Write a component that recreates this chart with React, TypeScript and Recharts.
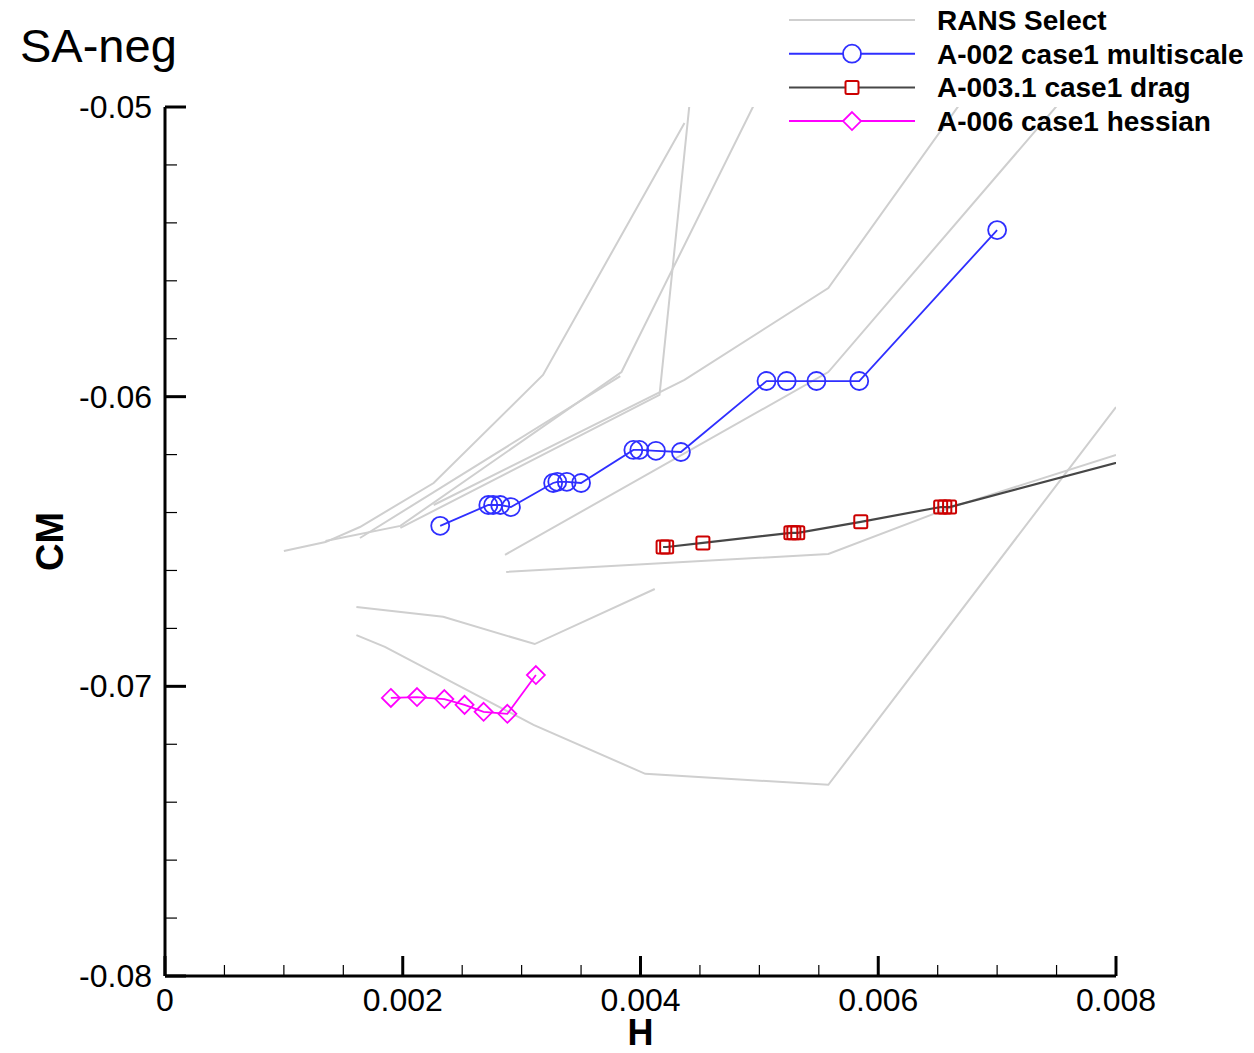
import { LineChart, Line, XAxis, YAxis } from 'recharts';

const FONT = '"Liberation Sans", Arial, Helvetica, sans-serif';

// axis ticks (minor + major)
const X_TICKS = [0, 0.0005, 0.001, 0.0015, 0.002, 0.0025, 0.003, 0.0035, 0.004, 0.0045, 0.005, 0.0055, 0.006, 0.0065, 0.007, 0.0075, 0.008];
const Y_TICKS = [-0.08, -0.078, -0.076, -0.074, -0.072, -0.07, -0.068, -0.066, -0.064, -0.062, -0.06, -0.058, -0.056, -0.054, -0.052, -0.05];

// RANS Select reference curves [H, CM]
const RANS_1: [number, number][] = [[0.001, -0.06533], [0.00135, -0.06502], [0.00164, -0.0645], [0.00226, -0.06298], [0.00318, -0.05925], [0.00437, -0.05055]];
const RANS_2: [number, number][] = [[0.00135, -0.06498], [0.00198, -0.06446], [0.00384, -0.05915], [0.005, -0.04955]];
const RANS_3: [number, number][] = [[0.00164, -0.06488], [0.00383, -0.05929]];
const RANS_4: [number, number][] = [[0.00198, -0.06453], [0.00416, -0.05994], [0.00442, -0.04959]];
const RANS_5: [number, number][] = [[0.00226, -0.06374], [0.00437, -0.05942], [0.00558, -0.05625], [0.00674, -0.04959]];
const RANS_6: [number, number][] = [[0.00286, -0.06546], [0.00558, -0.05915], [0.00758, -0.04959]];
const RANS_7: [number, number][] = [[0.00161, -0.06726], [0.00234, -0.0676], [0.00311, -0.06854], [0.00412, -0.06664]];
const RANS_8: [number, number][] = [[0.00161, -0.06823], [0.00185, -0.06864], [0.0031, -0.07133], [0.00404, -0.07302], [0.00558, -0.0734], [0.008, -0.06036]];
const RANS_9: [number, number][] = [[0.00287, -0.06605], [0.00558, -0.06543], [0.0066, -0.06384], [0.008, -0.06201]];

// A-002 case1 multiscale
const A002_H = [0.002315, 0.00272, 0.00276, 0.00282, 0.00291, 0.003265, 0.0033, 0.00338, 0.0035, 0.00394, 0.00399, 0.00413, 0.00434, 0.00506, 0.00523, 0.00548, 0.00584, 0.007];
const A002_CM = [-0.06446, -0.06374, -0.06374, -0.06374, -0.06381, -0.06298, -0.06294, -0.06294, -0.06298, -0.06184, -0.06184, -0.06187, -0.06191, -0.05946, -0.05946, -0.05946, -0.05946, -0.05425];

// A-003.1 case1 drag (last point lies past the axis end)
const A003_H = [0.00419, 0.00422, 0.004525, 0.005265, 0.00529, 0.005323, 0.005853, 0.006525, 0.00656, 0.0066, 0.0086];
const A003_CM = [-0.06519, -0.06519, -0.06505, -0.0647, -0.0647, -0.0647, -0.06432, -0.06381, -0.06381, -0.06381, -0.06163];

// A-006 case1 hessian
const A006_H = [0.0019, 0.00212, 0.00235, 0.00252, 0.00268, 0.00288, 0.00312];
const A006_CM = [-0.0704, -0.07037, -0.07044, -0.07064, -0.07088, -0.07095, -0.06961];

const X_MAX = 0.008;
const BLUE = '#2f2fff';
const RED = '#cc0000';
const DARK = '#474747';
const MAGENTA = '#ff00ff';
const GRAY = '#cfcfcf';

const zip = (h: number[], cm: number[]) => h.map((v, i) => ({ h: v, cm: cm[i] }));
const ransData = [RANS_1, RANS_2, RANS_3, RANS_4, RANS_5, RANS_6, RANS_7, RANS_8, RANS_9].map((pts) =>
  pts.map(([h, cm]) => ({ h, cm }))
);

const isMajor = (v: number, step: number) => Math.abs(v / step - Math.round(v / step)) < 1e-6;

const XTick = (props: any) => {
  const { x, y, payload } = props;
  const v = payload.value;
  const major = isMajor(v, 0.002);
  return (
    <g>
      <line x1={x} x2={x} y1={y} y2={y - (major ? 20 : 11)} stroke="#000" strokeWidth={major ? 3 : 1.2} />
      {major && (
        <text x={x} y={y + 35} textAnchor="middle" fontSize={32} fontFamily={FONT} fill="#000">
          {v === 0 ? '0' : v.toFixed(3)}
        </text>
      )}
    </g>
  );
};

const YTick = (props: any) => {
  const { x, y, payload } = props;
  const v = payload.value;
  const major = isMajor(v, 0.01);
  return (
    <g>
      <line x1={x} x2={x + (major ? 21 : 12)} y1={y} y2={y} stroke="#000" strokeWidth={major ? 3 : 1.2} />
      {major && (
        <text x={x - 13} y={y + 11} textAnchor="end" fontSize={32} fontFamily={FONT} fill="#000">
          {v.toFixed(2)}
        </text>
      )}
    </g>
  );
};

const circleDot = (p: any) =>
  p.payload.h > X_MAX ? <g key={`c${p.index}`} /> : (
    <circle key={`c${p.index}`} cx={p.cx} cy={p.cy} r={9} fill="none" stroke={BLUE} strokeWidth={1.8} />
  );

const squareDot = (p: any) =>
  p.payload.h > X_MAX ? <g key={`s${p.index}`} /> : (
    <rect key={`s${p.index}`} x={p.cx - 6.5} y={p.cy - 6.5} width={13} height={13} rx={1.5} fill="none" stroke={RED} strokeWidth={2} />
  );

const diamondDot = (p: any) =>
  p.payload.h > X_MAX ? <g key={`d${p.index}`} /> : (
    <polygon
      key={`d${p.index}`}
      points={`${p.cx},${p.cy - 9} ${p.cx + 9},${p.cy} ${p.cx},${p.cy + 9} ${p.cx - 9},${p.cy}`}
      fill="none"
      stroke={MAGENTA}
      strokeWidth={1.8}
    />
  );

const legendRows = [
  { label: 'RANS Select', color: GRAY, marker: null },
  { label: 'A-002 case1 multiscale', color: BLUE, marker: 'circle' },
  { label: 'A-003.1 case1 drag', color: DARK, marker: 'square' },
  { label: 'A-006 case1 hessian', color: MAGENTA, marker: 'diamond' },
];

function Overlay() {
  return (
    <svg width={1254} height={140} style={{ position: 'absolute', left: 0, top: 0, pointerEvents: 'none' }}>
      <text x={20} y={62} fontSize={47} fontFamily={FONT} fill="#000">SA-neg</text>
      {legendRows.map((r, i) => {
        const y = 20 + i * 33.7;
        const mx = 852;
        return (
          <g key={r.label}>
            <line x1={789} x2={915} y1={y} y2={y} stroke={r.color} strokeWidth={2} />
            {r.marker === 'circle' && <circle cx={mx} cy={y} r={9} fill="#fff" stroke={BLUE} strokeWidth={1.8} />}
            {r.marker === 'square' && <rect x={mx - 6.5} y={y - 6.5} width={13} height={13} rx={1.5} fill="#fff" stroke={RED} strokeWidth={2} />}
            {r.marker === 'diamond' && (
              <polygon points={`${mx},${y - 9} ${mx + 9},${y} ${mx},${y + 9} ${mx - 9},${y}`} fill="#fff" stroke={MAGENTA} strokeWidth={1.8} />
            )}
            <text x={937} y={y + 10} fontSize={28} fontWeight="bold" fontFamily={FONT} fill="#000">{r.label}</text>
          </g>
        );
      })}
    </svg>
  );
}

export default function App() {
  return (
    <div style={{ position: 'absolute', left: 0, top: 0, width: 1254, height: 1053, background: '#fff' }}>
      <LineChart width={1254} height={1053} margin={{ top: 107, right: 138, bottom: 0, left: 0 }}>
        <XAxis
          type="number"
          dataKey="h"
          domain={[0, X_MAX]}
          ticks={X_TICKS}
          interval={0}
          allowDataOverflow
          height={77}
          tickSize={0}
          tickMargin={0}
          tickLine={false}
          tick={<XTick />}
          axisLine={{ stroke: '#000', strokeWidth: 3 }}
          label={{
            content: (p: any) => (
              <text x={p.viewBox.x + p.viewBox.width / 2} y={p.viewBox.y + 69} textAnchor="middle" fontSize={36} fontWeight="bold" fontFamily={FONT} fill="#000">
                H
              </text>
            ),
          }}
        />
        <YAxis
          type="number"
          dataKey="cm"
          domain={[-0.08, -0.05]}
          ticks={Y_TICKS}
          interval={0}
          allowDataOverflow
          width={165}
          tickSize={0}
          tickMargin={0}
          tickLine={false}
          tick={<YTick />}
          axisLine={{ stroke: '#000', strokeWidth: 3 }}
          label={{
            content: (p: any) => {
              const cx = 50;
              const cy = p.viewBox.y + p.viewBox.height / 2;
              return (
                <text x={cx} y={cy} transform={`rotate(-90 ${cx} ${cy})`} textAnchor="middle" dominantBaseline="central" fontSize={38} fontWeight="bold" fontFamily={FONT} fill="#000">
                  CM
                </text>
              );
            },
          }}
        />
        {ransData.map((d, i) => (
          <Line key={`rans${i}`} data={d} dataKey="cm" name="RANS Select" type="linear" stroke={GRAY} strokeWidth={2} dot={false} activeDot={false} isAnimationActive={false} />
        ))}
        <Line data={zip(A002_H, A002_CM)} dataKey="cm" name="A-002 case1 multiscale" type="linear" stroke={BLUE} strokeWidth={1.8} dot={circleDot} activeDot={false} isAnimationActive={false} />
        <Line data={zip(A003_H, A003_CM)} dataKey="cm" name="A-003.1 case1 drag" type="linear" stroke={DARK} strokeWidth={2.2} dot={squareDot} activeDot={false} isAnimationActive={false} />
        <Line data={zip(A006_H, A006_CM)} dataKey="cm" name="A-006 case1 hessian" type="linear" stroke={MAGENTA} strokeWidth={1.8} dot={diamondDot} activeDot={false} isAnimationActive={false} />
      </LineChart>
      <Overlay />
    </div>
  );
}
